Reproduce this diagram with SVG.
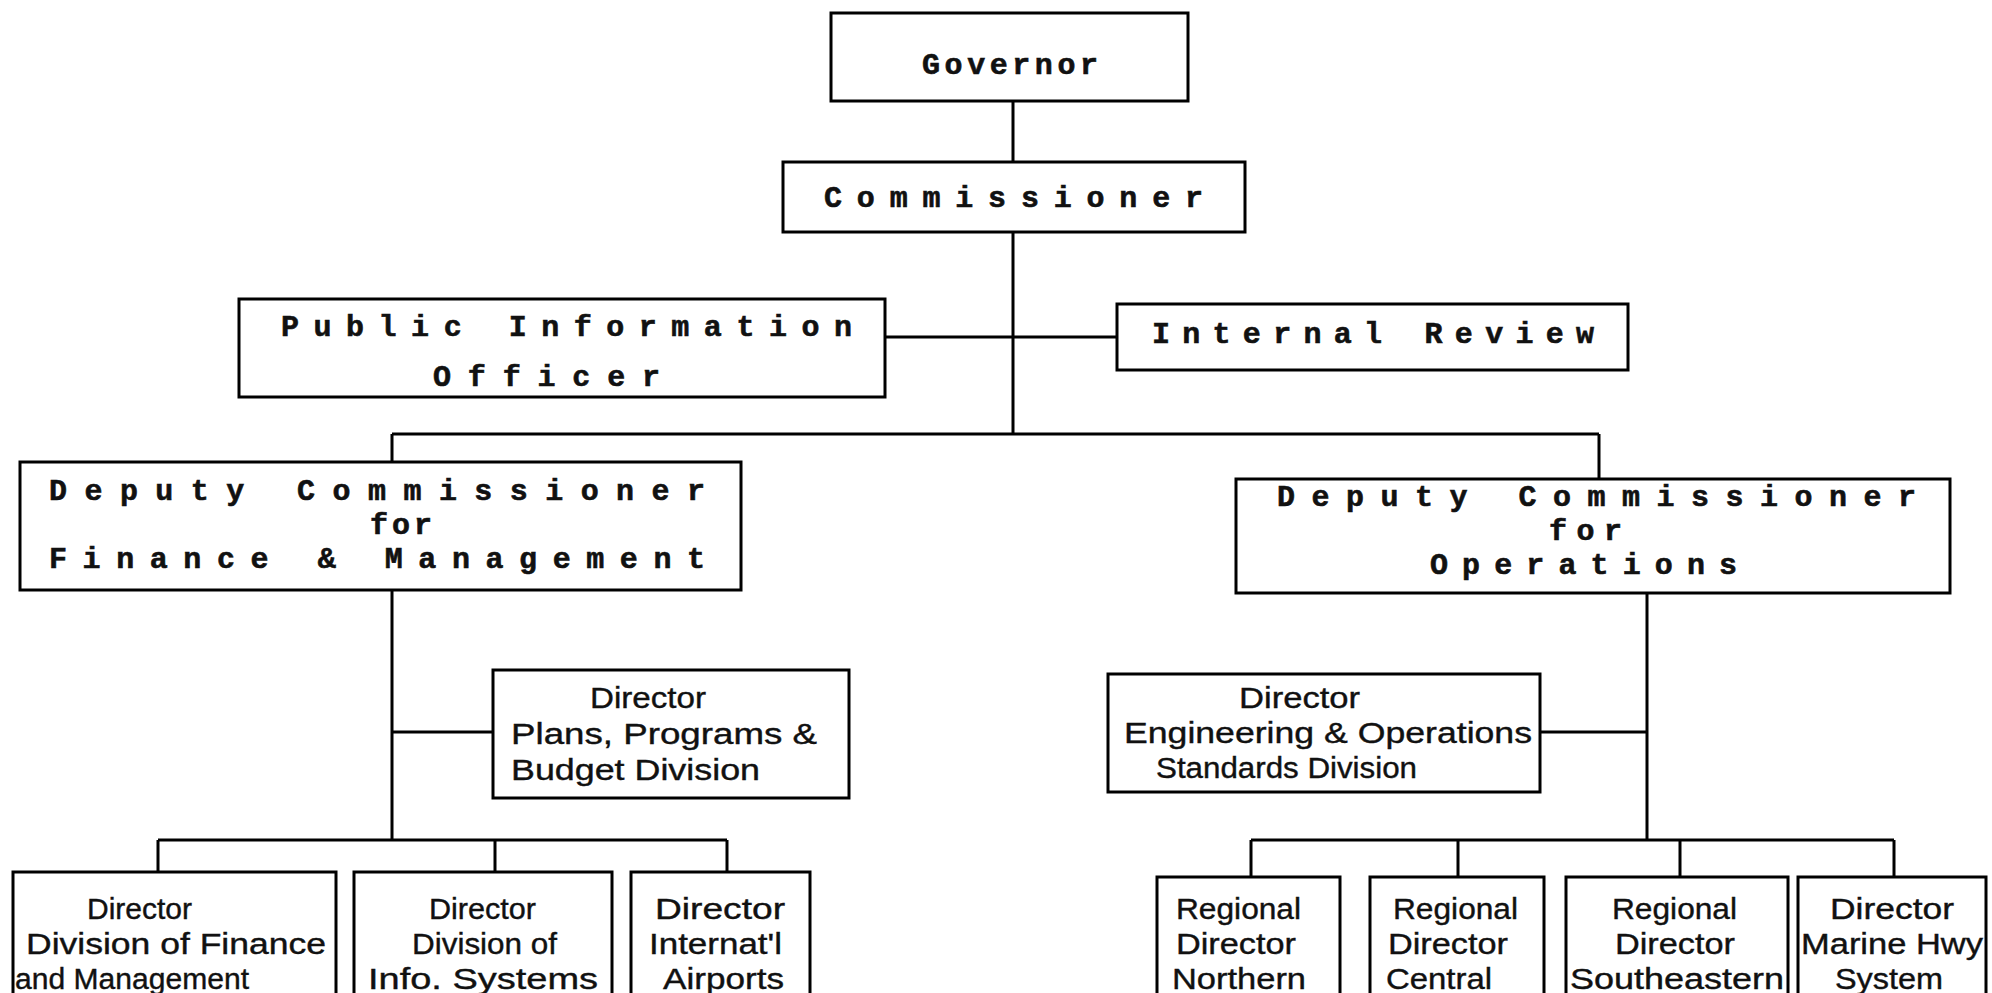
<svg xmlns="http://www.w3.org/2000/svg" width="1992" height="993" viewBox="0 0 1992 993">
<style>
.box{fill:#fff;stroke:#000;stroke-width:3}
.ln{fill:none;stroke:#000;stroke-width:3}
.m{font-family:"Liberation Mono","Courier New",monospace;font-weight:bold;font-size:30px;fill:#111;stroke:#111;stroke-width:0.6}
.s{font-family:"Liberation Sans",Arial,sans-serif;font-size:30px;fill:#111;stroke:#111;stroke-width:0.4}
</style>
<rect width="1992" height="993" fill="#fff"/>
<g id="connectors">
<path class="ln" d="M1013 101V162M1013 232V434M885 337H1117M392 434H1599M392 434V462M1599 434V479"/>
<path class="ln" d="M392 590V840M392 732H493M158 840H727M158 840V872M495 840V872M727 840V872"/>
<path class="ln" d="M1647 593V840M1540 732H1647M1251 840H1894M1251 840V877M1458 840V877M1680 840V877M1894 840V877"/>
</g>
<g id="governor"><rect class="box" x="831" y="13" width="357" height="88"/><text class="m" x="922" y="74" textLength="176" lengthAdjust="spacing">Governor</text></g>
<g id="commissioner"><rect class="box" x="783" y="162" width="462" height="70"/><text class="m" x="824" y="207" textLength="379" lengthAdjust="spacing">Commissioner</text></g>
<g id="pio"><rect class="box" x="239" y="299" width="646" height="98"/><text class="m" x="281" y="336" textLength="571" lengthAdjust="spacing">Public Information</text><text class="m" x="433" y="386" textLength="227" lengthAdjust="spacing">Officer</text></g>
<g id="internal-review"><rect class="box" x="1117" y="304" width="511" height="66"/><text class="m" x="1152" y="343" textLength="442" lengthAdjust="spacing">Internal Review</text></g>
<g id="deputy-fm"><rect class="box" x="20" y="462" width="721" height="128"/><text class="m" x="49" y="500" textLength="656" lengthAdjust="spacing">Deputy Commissioner</text><text class="m" x="370" y="534" textLength="62" lengthAdjust="spacing">for</text><text class="m" x="49" y="568" textLength="656" lengthAdjust="spacing">Finance &amp; Management</text></g>
<g id="deputy-ops"><rect class="box" x="1236" y="479" width="714" height="114"/><text class="m" x="1277" y="506" textLength="639" lengthAdjust="spacing">Deputy Commissioner</text><text class="m" x="1549" y="540" textLength="73" lengthAdjust="spacing">for</text><text class="m" x="1430" y="574" textLength="307" lengthAdjust="spacing">Operations</text></g>
<g id="dir-plans"><rect class="box" x="493" y="670" width="356" height="128"/><text class="s" x="590" y="708" textLength="116" lengthAdjust="spacingAndGlyphs">Director</text><text class="s" x="511" y="744" textLength="306" lengthAdjust="spacingAndGlyphs">Plans, Programs &amp;</text><text class="s" x="511" y="780" textLength="249" lengthAdjust="spacingAndGlyphs">Budget Division</text></g>
<g id="dir-eng"><rect class="box" x="1108" y="674" width="432" height="118"/><text class="s" x="1239" y="708" textLength="121" lengthAdjust="spacingAndGlyphs">Director</text><text class="s" x="1124" y="743" textLength="408" lengthAdjust="spacingAndGlyphs">Engineering &amp; Operations</text><text class="s" x="1156" y="778" textLength="261" lengthAdjust="spacingAndGlyphs">Standards Division</text></g>
<g id="dir-finance"><rect class="box" x="13" y="872" width="323" height="130"/><text class="s" x="87" y="919" textLength="105" lengthAdjust="spacingAndGlyphs">Director</text><text class="s" x="26" y="954" textLength="300" lengthAdjust="spacingAndGlyphs">Division of Finance</text><text class="s" x="15" y="989" textLength="234" lengthAdjust="spacingAndGlyphs">and Management</text></g>
<g id="dir-info"><rect class="box" x="354" y="872" width="258" height="130"/><text class="s" x="429" y="919" textLength="107" lengthAdjust="spacingAndGlyphs">Director</text><text class="s" x="412" y="954" textLength="145" lengthAdjust="spacingAndGlyphs">Division of</text><text class="s" x="368" y="989" textLength="230" lengthAdjust="spacingAndGlyphs">Info. Systems</text></g>
<g id="dir-airports"><rect class="box" x="631" y="872" width="179" height="130"/><text class="s" x="655" y="919" textLength="130" lengthAdjust="spacingAndGlyphs">Director</text><text class="s" x="649" y="954" textLength="133" lengthAdjust="spacingAndGlyphs">Internat'l</text><text class="s" x="663" y="989" textLength="121" lengthAdjust="spacingAndGlyphs">Airports</text></g>
<g id="reg-northern"><rect class="box" x="1157" y="877" width="183" height="125"/><text class="s" x="1176" y="919" textLength="125" lengthAdjust="spacingAndGlyphs">Regional</text><text class="s" x="1176" y="954" textLength="120" lengthAdjust="spacingAndGlyphs">Director</text><text class="s" x="1172" y="989" textLength="134" lengthAdjust="spacingAndGlyphs">Northern</text></g>
<g id="reg-central"><rect class="box" x="1370" y="877" width="174" height="125"/><text class="s" x="1393" y="919" textLength="125" lengthAdjust="spacingAndGlyphs">Regional</text><text class="s" x="1388" y="954" textLength="120" lengthAdjust="spacingAndGlyphs">Director</text><text class="s" x="1386" y="989" textLength="106" lengthAdjust="spacingAndGlyphs">Central</text></g>
<g id="reg-southeastern"><rect class="box" x="1566" y="877" width="222" height="125"/><text class="s" x="1612" y="919" textLength="125" lengthAdjust="spacingAndGlyphs">Regional</text><text class="s" x="1615" y="954" textLength="120" lengthAdjust="spacingAndGlyphs">Director</text><text class="s" x="1570" y="989" textLength="214" lengthAdjust="spacingAndGlyphs">Southeastern</text></g>
<g id="dir-marine"><rect class="box" x="1798" y="877" width="188" height="125"/><text class="s" x="1830" y="919" textLength="124" lengthAdjust="spacingAndGlyphs">Director</text><text class="s" x="1801" y="954" textLength="182" lengthAdjust="spacingAndGlyphs">Marine Hwy</text><text class="s" x="1835" y="989" textLength="108" lengthAdjust="spacingAndGlyphs">System</text></g>
</svg>
